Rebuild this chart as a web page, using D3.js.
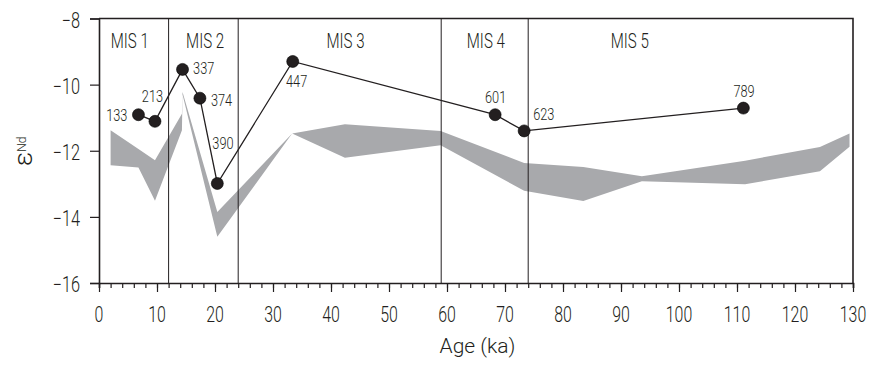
<!DOCTYPE html>
<html>
<head>
<meta charset="utf-8">
<script src="https://cdn.jsdelivr.net/npm/d3@7"></script>
<style>
  html, body { margin: 0; padding: 0; background: #fff; }
  svg { display: block; font-family: Roboto, "DejaVu Sans", sans-serif; font-weight: 300; }
</style>
</head>
<body>
<svg id="chart" width="869" height="365"></svg>
<script>
// Sample εNd values with sample numbers
const sampleAge = [6.8, 9.65, 14.4, 17.4, 20.4, 33.4, 68.3, 73.3, 111.1];
const sampleEnd = [-10.91, -11.11, -9.54, -10.41, -12.99, -9.30, -10.91, -11.40, -10.71];
const sampleId  = ["133", "213", "337", "374", "390", "447", "601", "623", "789"];

// Reference envelope (shaded band)
const bandAge   = [2.0, 6.8, 9.65, 14.3, 14.4, 20.4, 33.3, 42.4, 58.9, 73.3, 83.5, 93.6, 111.4, 124.3, 129.4];
const bandUpper = [-11.38, -11.95, -12.29, -10.88, -10.22, -13.85, -11.48, -11.20, -11.40, -12.37, -12.49, -12.77, -12.30, -11.89, -11.48];
const bandLower = [-12.44, -12.51, -13.51, -11.38, -10.30, -14.60, -11.48, -12.21, -11.83, -13.21, -13.52, -12.92, -13.01, -12.62, -11.88];

// Marine isotope stage boundaries and labels
const misBoundary = [12, 24, 59, 74];
const misName     = ["MIS 1", "MIS 2", "MIS 3", "MIS 4", "MIS 5"];
const misLabelAge = [5.3, 18.3, 42.5, 66.7, 91.5];

// Axis ticks
const xTicks = [0, 10, 20, 30, 40, 50, 60, 70, 80, 90, 100, 110, 120, 130];
const yTicks = [-8, -10, -12, -14, -16];

// Label placement around each sample marker: [dx, dy, anchor]
const labelPlacement = [
  [-11, 6, "end"], [-2.5, -19.5, "middle"], [10.6, 5, "start"], [11, 8.3, "start"],
  [-5, -34.3, "start"], [-6.7, 26, "start"], [0.5, -11.8, "middle"], [9, -11.4, "start"],
  [0.7, -11.2, "middle"]
];

const ink = "#231f20";
const svg = d3.select("#chart");
const x = d3.scaleLinear().domain([0, 130]).range([99, 853]);
const y = d3.scaleLinear().domain([-16, -8]).range([283, 18.5]);

// Condensed text helper: horizontal squeeze around the anchor point
function ctext(g, tx, ty, str, size, sx, anchor) {
  return g.append("text")
    .attr("transform", `translate(${tx},${ty}) scale(${sx},1)`)
    .attr("text-anchor", anchor)
    .attr("font-size", size)
    .attr("fill", ink)
    .text(str);
}

// Shaded band
const band = bandAge.map((a, i) => ({ a, u: bandUpper[i], l: bandLower[i] }));
svg.append("path")
  .datum(band)
  .attr("fill", "#a8a9ac")
  .attr("d", d3.area().x(d => x(d.a)).y0(d => y(d.l)).y1(d => y(d.u)));

// Stage boundaries
svg.append("g").selectAll("line").data(misBoundary).join("line")
  .attr("x1", d => x(d)).attr("x2", d => x(d))
  .attr("y1", y(-8)).attr("y2", y(-16))
  .attr("stroke", ink).attr("stroke-width", 1);

// Stage labels
const misG = svg.append("g");
misName.forEach((n, i) => ctext(misG, x(misLabelAge[i]), 48, n, 21, 0.72, "middle"));

// Frame (top and right)
svg.append("path")
  .attr("d", `M${x(0)},${y(-8)}H${x(130)}V${y(-16)}`)
  .attr("fill", "none").attr("stroke", ink).attr("stroke-width", 1.6);

// X axis with minor ticks every 2 ka
const xAxisG = svg.append("g").attr("transform", `translate(0,${y(-16)})`);
xAxisG.call(d3.axisBottom(x).tickValues(d3.range(0, 131, 2)).tickSize(5).tickFormat(""))
  .call(g => g.select(".domain").attr("stroke", ink).attr("stroke-width", 1.6))
  .call(g => g.selectAll(".tick line").attr("stroke", ink).attr("stroke-width", 1.2));
xAxisG.append("g").call(d3.axisBottom(x).tickValues(xTicks).tickSize(9).tickFormat(""))
  .call(g => g.select(".domain").remove())
  .call(g => g.selectAll(".tick line").attr("stroke", ink).attr("stroke-width", 1.2));
const xLab = svg.append("g");
xTicks.forEach(t => ctext(xLab, x(t), 322, String(t), 21.5, 0.74, "middle"));

// Y axis
const yAxisG = svg.append("g").attr("transform", `translate(${x(0)},0)`);
yAxisG.call(d3.axisLeft(y).tickValues(yTicks).tickSize(9).tickFormat(""))
  .call(g => g.select(".domain").attr("stroke", ink).attr("stroke-width", 1.6))
  .call(g => g.selectAll(".tick line").attr("stroke", ink).attr("stroke-width", 1.2));
const yLab = svg.append("g");
yTicks.forEach(t => ctext(yLab, 80, y(t) + 9, "\u2212" + Math.abs(t), 21.5, 0.76, "end"));

// Axis titles
svg.append("text")
  .attr("x", 477.5).attr("y", 353)
  .attr("text-anchor", "middle").attr("font-size", 21).attr("fill", ink)
  .text("Age (ka)");

const yTitle = svg.append("text")
  .attr("transform", "translate(32,166) rotate(-90)")
  .attr("fill", ink);
yTitle.append("tspan").attr("font-size", 26).text("\u03b5");
yTitle.append("tspan").attr("font-size", 12).attr("dy", -6).text("Nd");

// Sample line and markers
const pts = sampleAge.map((a, i) => ({ a, v: sampleEnd[i], id: sampleId[i], p: labelPlacement[i] }));
svg.append("path")
  .datum(pts)
  .attr("fill", "none").attr("stroke", ink).attr("stroke-width", 1.3)
  .attr("d", d3.line().x(d => x(d.a)).y(d => y(d.v)));
svg.append("g").selectAll("circle").data(pts).join("circle")
  .attr("cx", d => x(d.a)).attr("cy", d => y(d.v)).attr("r", 6)
  .attr("fill", ink).attr("stroke", "#000").attr("stroke-width", 0.6);

// Sample numbers
const idG = svg.append("g");
pts.forEach(d => ctext(idG, x(d.a) + d.p[0], y(d.v) + d.p[1], d.id, 17, 0.75, d.p[2]));
</script>
</body>
</html>
